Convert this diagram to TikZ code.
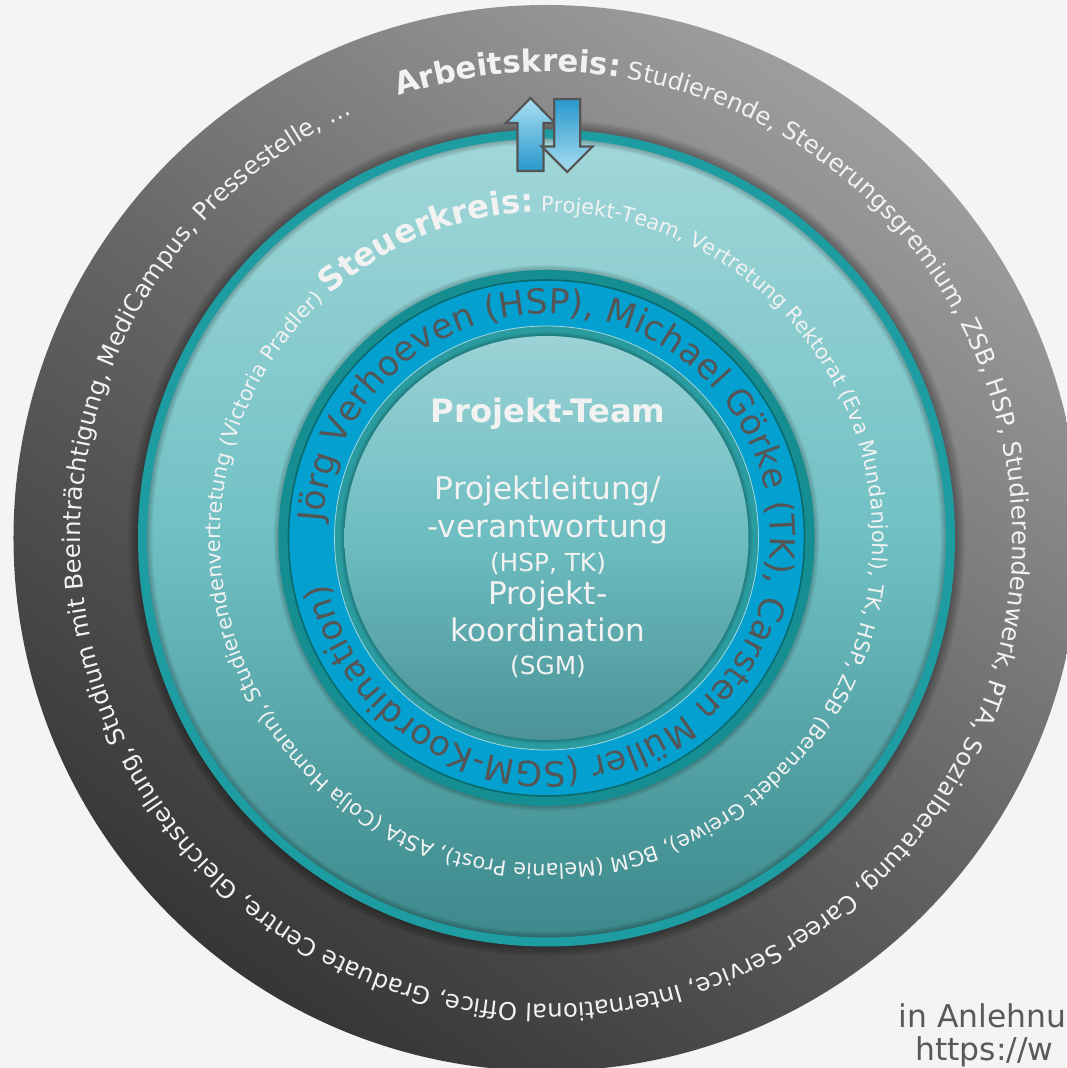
\documentclass[tikz,border=0pt]{standalone}
\usepackage{fontspec}
\setmainfont{DejaVu Sans}
\usetikzlibrary{decorations.text}

\definecolor{paper}{HTML}{F4F4F4}
\definecolor{softwhite}{HTML}{F2F2F2}
\definecolor{ringgrey}{HTML}{555555}
\definecolor{credgrey}{HTML}{595959}
\definecolor{greylow}{HTML}{363636}
\definecolor{greymid}{HTML}{666667}
\definecolor{greyhigh}{HTML}{9E9EA0}
\definecolor{tealbottom}{HTML}{3C888A}
\definecolor{tealmid}{HTML}{70C0C3}
\definecolor{tealtop}{HTML}{A2D7D9}
\definecolor{tealedge}{HTML}{1D9CA1}
\definecolor{tealdark}{HTML}{148E91}
\definecolor{tealline}{HTML}{0B6A6D}
\definecolor{ringblue}{HTML}{03A0D0}
\definecolor{tealinner}{HTML}{2A9CA0}
\definecolor{innerbottom}{HTML}{4B9396}
\definecolor{innermid}{HTML}{6DBDC1}
\definecolor{innertop}{HTML}{9BD2D5}
\definecolor{arrowdark}{HTML}{2898CB}
\definecolor{arrowlight}{HTML}{A9DEF2}
\definecolor{arrowline}{HTML}{555555}

\pgfdeclareverticalshading{greyfade}{100bp}{color(0bp)=(greylow); color(25bp)=(greylow); color(50bp)=(greymid); color(75bp)=(greyhigh); color(100bp)=(greyhigh)}
\pgfdeclareverticalshading{tealfade}{100bp}{color(0bp)=(tealbottom); color(25bp)=(tealbottom); color(50bp)=(tealmid); color(75bp)=(tealtop); color(100bp)=(tealtop)}
\pgfdeclareverticalshading{innerfade}{100bp}{color(0bp)=(innerbottom); color(25bp)=(innerbottom); color(50bp)=(innermid); color(75bp)=(innertop); color(100bp)=(innertop)}
\pgfdeclareverticalshading{arrowup}{100bp}{color(0bp)=(arrowdark); color(25bp)=(arrowdark); color(75bp)=(arrowlight); color(100bp)=(arrowlight)}
\pgfdeclareverticalshading{arrowdown}{100bp}{color(0bp)=(arrowlight); color(25bp)=(arrowlight); color(75bp)=(arrowdark); color(100bp)=(arrowdark)}

\tikzset{
    teamtext/.style={
        text=softwhite, inner sep=0pt, anchor=base,
        font=\fontsize{15.6}{18}\selectfont
    },
    teamsmall/.style={teamtext, font=\fontsize{12.4}{14}\selectfont},
    teamhead/.style={teamtext, font=\bfseries\fontsize{16.1}{19}\selectfont},
    halo/.style={black, opacity=0.05},
    swaparrow/.style={draw=arrowline, line width=1.1pt, line join=miter},
    credit/.style={
        text=credgrey, inner sep=0pt, anchor=base west,
        font=\fontsize{15.7}{18}\selectfont
    }
}

\begin{document}
\begin{tikzpicture}[x=0.5pt, y=0.5pt]

\path[use as bounding box, fill=paper] (-546.5,-530) rectangle (519.5,538);

% Arbeitskreis
\shade[shading=greyfade, shading angle=-35] (0,0) circle[radius=533];

% Steuerkreis
\foreach \k in {1,...,7}
    \draw[halo, line width=\k*1.5pt] (0,0) circle[radius=408];
\shade[shading=tealfade] (0,0) circle[radius=404];
\foreach \k in {1,...,5}
    \draw[halo, line width=\k*1.2pt] (0,0) circle[radius=400];
\draw[tealedge, line width=4.5pt] (0,0) circle[radius=404];

% Ring with names
\foreach \k in {1,...,5}
    \draw[halo, line width=\k*1.2pt] (0,0) circle[radius=267];
\fill[tealdark] (0,0) circle[radius=268];
\fill[ringblue] (0,0) circle[radius=258];
\draw[tealline, line width=0.8pt] (0,0) circle[radius=258];
\fill[tealinner] (0,0) circle[radius=212];
\draw[white, opacity=0.6, line width=0.4pt] (0,0) circle[radius=212];

% Projekt-Team
\foreach \k in {1,...,4}
    \draw[halo, line width=\k*1pt] (0,0) circle[radius=202];
\shade[shading=innerfade] (0,0) circle[radius=202];

\node[teamhead] (team) at (1.5,115) {Projekt-Team};
\node[teamtext] (lead) at (1.5,38) {Projektleitung/};
\node[teamtext] (resp) at (1.5,0) {-verantwortung};
\node[teamsmall] (leadwho) at (1.5,-34) {(HSP, TK)};
\node[teamtext] (coord) at (1.5,-67) {Projekt-};
\node[teamtext] (coordb) at (1.5,-104) {koordination};
\node[teamsmall] (coordwho) at (1.5,-137) {(SGM)};

% texts along the circles
\path[decorate, decoration={text along path, text align=center,
    text={|\color{ringgrey}\fontsize{17.3}{20}\selectfont|Jörg Verhoeven (HSP), Michael Görke (TK), Carsten Müller (SGM-Koordination)}}]
    (183.9:224) arc[start angle=183.9, end angle=-176.1, radius=224];

\path[decorate, decoration={text along path, text align=left,
    text={|\color{softwhite}\bfseries\fontsize{16.2}{19}\selectfont|Steuerkreis:|\color{softwhite}\mdseries\fontsize{10.4}{12}\selectfont| Projekt-Team, Vertretung Rektorat (Eva Mundanjohl), TK, HSP, ZSB (Bernadett Greiwe), BGM (Melanie Prost), AStA (Colja Homann), Studierendenvertretung (Victoria Pradler)}}]
    (131.6:326) arc[start angle=131.6, end angle=-228.4, radius=326];

\path[decorate, decoration={text along path, text align=left,
    text={|\color{softwhite}\bfseries\fontsize{15.4}{18}\selectfont|Arbeitskreis:|\color{softwhite}\mdseries\fontsize{12.15}{14}\selectfont| Studierende, Steuerungsgremium, ZSB, HSP, Studierendenwerk, PTA, Sozialberatung, Career Service, International Office, Graduate Centre, Gleichstellung, Studium mit Beeinträchtigung, MediCampus, Pressestelle, …}}]
    (108.5:466) arc[start angle=108.5, end angle=-251.5, radius=466];

% exchange arrows
\shade[shading=arrowup, swaparrow] (-16,440) -- (8.5,415) -- (-3,415) -- (-3,367)
    -- (-29,367) -- (-29,415) -- (-40.5,415) -- cycle;
\shade[shading=arrowdown, swaparrow] (7.7,439) -- (33.7,439) -- (33.7,391.5) -- (46.2,391.5)
    -- (20.7,366) -- (-4.8,391.5) -- (7.7,391.5) -- cycle;

% source note
\node[credit] (cite) at (351.5,-489) {in Anlehnu};
\node[credit] (citeurl) at (368.5,-522) {https://w};

\end{tikzpicture}
\end{document}
